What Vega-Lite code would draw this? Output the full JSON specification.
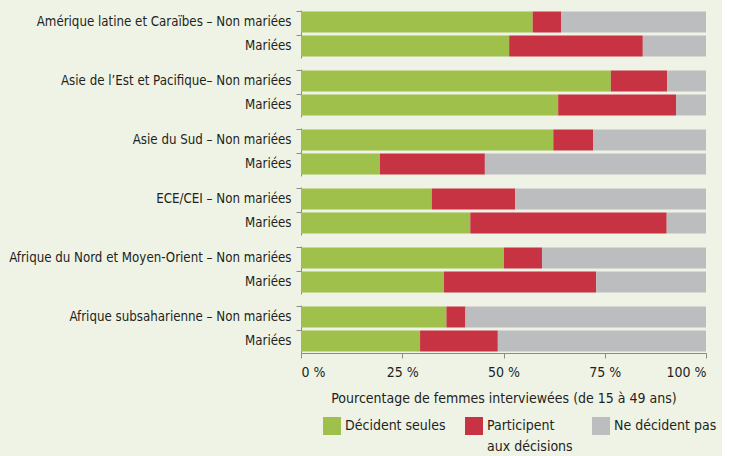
{
  "$schema": "https://vega.github.io/schema/vega-lite/v6.json",
  "background": "#eff3e6",
  "padding": {"left": 8, "top": 10, "right": 5, "bottom": 2},
  "config": {
    "font": "DejaVu Sans Condensed, Liberation Sans, sans-serif",
    "view": {"stroke": null},
    "axis": {"labelFont": "DejaVu Sans Condensed, Liberation Sans, sans-serif", "titleFont": "DejaVu Sans Condensed, Liberation Sans, sans-serif", "labelColor": "#231f20", "titleColor": "#231f20", "domainColor": "#8a8a8a", "tickColor": "#8a8a8a", "labelFontSize": 14, "titleFontSize": 14, "titleFontWeight": "normal", "grid": false, "labelLimit": 400},
    "legend": {"labelFont": "DejaVu Sans Condensed, Liberation Sans, sans-serif", "labelFontSize": 14, "labelColor": "#231f20", "labelLimit": 300}
  },
  "data": {"values": [
    {"region": "Amérique latine et Caraïbes", "label": "Amérique latine et Caraïbes – Non mariées", "pos": 0, "cat": "Décident seules", "k": 0, "value": 57.2},
    {"region": "Amérique latine et Caraïbes", "label": "Amérique latine et Caraïbes – Non mariées", "pos": 0, "cat": "Participent aux décisions", "k": 1, "value": 7.0},
    {"region": "Amérique latine et Caraïbes", "label": "Amérique latine et Caraïbes – Non mariées", "pos": 0, "cat": "Ne décident pas", "k": 2, "value": 35.8},
    {"region": "Amérique latine et Caraïbes", "label": "Mariées", "pos": 1, "cat": "Décident seules", "k": 0, "value": 51.4},
    {"region": "Amérique latine et Caraïbes", "label": "Mariées", "pos": 1, "cat": "Participent aux décisions", "k": 1, "value": 33.0},
    {"region": "Amérique latine et Caraïbes", "label": "Mariées", "pos": 1, "cat": "Ne décident pas", "k": 2, "value": 15.6},
    {"region": "Asie de l’Est et Pacifique", "label": "Asie de l’Est et Pacifique– Non mariées", "pos": 0, "cat": "Décident seules", "k": 0, "value": 76.5},
    {"region": "Asie de l’Est et Pacifique", "label": "Asie de l’Est et Pacifique– Non mariées", "pos": 0, "cat": "Participent aux décisions", "k": 1, "value": 13.9},
    {"region": "Asie de l’Est et Pacifique", "label": "Asie de l’Est et Pacifique– Non mariées", "pos": 0, "cat": "Ne décident pas", "k": 2, "value": 9.6},
    {"region": "Asie de l’Est et Pacifique", "label": "Mariées", "pos": 1, "cat": "Décident seules", "k": 0, "value": 63.5},
    {"region": "Asie de l’Est et Pacifique", "label": "Mariées", "pos": 1, "cat": "Participent aux décisions", "k": 1, "value": 29.1},
    {"region": "Asie de l’Est et Pacifique", "label": "Mariées", "pos": 1, "cat": "Ne décident pas", "k": 2, "value": 7.4},
    {"region": "Asie du Sud", "label": "Asie du Sud – Non mariées", "pos": 0, "cat": "Décident seules", "k": 0, "value": 62.3},
    {"region": "Asie du Sud", "label": "Asie du Sud – Non mariées", "pos": 0, "cat": "Participent aux décisions", "k": 1, "value": 9.8},
    {"region": "Asie du Sud", "label": "Asie du Sud – Non mariées", "pos": 0, "cat": "Ne décident pas", "k": 2, "value": 27.9},
    {"region": "Asie du Sud", "label": "Mariées", "pos": 1, "cat": "Décident seules", "k": 0, "value": 19.5},
    {"region": "Asie du Sud", "label": "Mariées", "pos": 1, "cat": "Participent aux décisions", "k": 1, "value": 25.9},
    {"region": "Asie du Sud", "label": "Mariées", "pos": 1, "cat": "Ne décident pas", "k": 2, "value": 54.6},
    {"region": "ECE/CEI", "label": "ECE/CEI – Non mariées", "pos": 0, "cat": "Décident seules", "k": 0, "value": 32.3},
    {"region": "ECE/CEI", "label": "ECE/CEI – Non mariées", "pos": 0, "cat": "Participent aux décisions", "k": 1, "value": 20.6},
    {"region": "ECE/CEI", "label": "ECE/CEI – Non mariées", "pos": 0, "cat": "Ne décident pas", "k": 2, "value": 47.1},
    {"region": "ECE/CEI", "label": "Mariées", "pos": 1, "cat": "Décident seules", "k": 0, "value": 41.8},
    {"region": "ECE/CEI", "label": "Mariées", "pos": 1, "cat": "Participent aux décisions", "k": 1, "value": 48.5},
    {"region": "ECE/CEI", "label": "Mariées", "pos": 1, "cat": "Ne décident pas", "k": 2, "value": 9.7},
    {"region": "Afrique du Nord et Moyen-Orient", "label": "Afrique du Nord et Moyen-Orient – Non mariées", "pos": 0, "cat": "Décident seules", "k": 0, "value": 50.1},
    {"region": "Afrique du Nord et Moyen-Orient", "label": "Afrique du Nord et Moyen-Orient – Non mariées", "pos": 0, "cat": "Participent aux décisions", "k": 1, "value": 9.4},
    {"region": "Afrique du Nord et Moyen-Orient", "label": "Afrique du Nord et Moyen-Orient – Non mariées", "pos": 0, "cat": "Ne décident pas", "k": 2, "value": 40.5},
    {"region": "Afrique du Nord et Moyen-Orient", "label": "Mariées", "pos": 1, "cat": "Décident seules", "k": 0, "value": 35.3},
    {"region": "Afrique du Nord et Moyen-Orient", "label": "Mariées", "pos": 1, "cat": "Participent aux décisions", "k": 1, "value": 37.6},
    {"region": "Afrique du Nord et Moyen-Orient", "label": "Mariées", "pos": 1, "cat": "Ne décident pas", "k": 2, "value": 27.1},
    {"region": "Afrique subsaharienne", "label": "Afrique subsaharienne – Non mariées", "pos": 0, "cat": "Décident seules", "k": 0, "value": 35.9},
    {"region": "Afrique subsaharienne", "label": "Afrique subsaharienne – Non mariées", "pos": 0, "cat": "Participent aux décisions", "k": 1, "value": 4.7},
    {"region": "Afrique subsaharienne", "label": "Afrique subsaharienne – Non mariées", "pos": 0, "cat": "Ne décident pas", "k": 2, "value": 59.4},
    {"region": "Afrique subsaharienne", "label": "Mariées", "pos": 1, "cat": "Décident seules", "k": 0, "value": 29.4},
    {"region": "Afrique subsaharienne", "label": "Mariées", "pos": 1, "cat": "Participent aux décisions", "k": 1, "value": 19.2},
    {"region": "Afrique subsaharienne", "label": "Mariées", "pos": 1, "cat": "Ne décident pas", "k": 2, "value": 51.4}
  ]},
  "facet": {
    "row": {
      "field": "region", "type": "nominal", "title": null,
      "sort": ["Amérique latine et Caraïbes", "Asie de l’Est et Pacifique", "Asie du Sud", "ECE/CEI", "Afrique du Nord et Moyen-Orient", "Afrique subsaharienne"],
      "header": {"labels": false, "title": null}
    }
  },
  "spacing": 11,
  "resolve": {"scale": {"y": "independent"}},
  "spec": {
    "width": 405,
    "height": 48,
    "mark": {"type": "bar"},
    "encoding": {
      "y": {
        "field": "label", "type": "nominal",
        "sort": {"field": "pos", "op": "min"},
        "scale": {"paddingInner": 0.125, "paddingOuter": 0.0625},
        "axis": {"title": null, "bandPosition": 0, "tickSize": 5, "labelPadding": 5, "labelFontSize": 13.2}
      },
      "x": {
        "field": "value", "type": "quantitative", "stack": "zero",
        "scale": {"domain": [0, 100], "nice": false},
        "axis": {"values": [0, 25, 50, 75, 100], "labelExpr": "datum.value + ' %'", "tickSize": 5, "labelPadding": 7, "title": "Pourcentage de femmes interviewées (de 15 à 49 ans)", "titlePadding": 12}
      },
      "color": {
        "field": "cat", "type": "nominal",
        "scale": {"domain": ["Décident seules", "Participent aux décisions", "Ne décident pas"], "range": ["#a0c04c", "#c73342", "#bcbdbf"]},
        "legend": {
          "orient": "none", "legendX": 22, "legendY": 407, "direction": "horizontal",
          "title": null, "symbolType": "square", "symbolSize": 324, "symbolStrokeWidth": 0, "columnPadding": 19,
          "labelExpr": "datum.label == 'Participent aux décisions' ? ['Participent', 'aux décisions'] : [datum.label, '']",
          "encode": {"labels": {"update": {"lineHeight": {"value": 21}, "dy": {"value": 0}}}}
        }
      },
      "order": {"field": "k"}
    }
  }
}
